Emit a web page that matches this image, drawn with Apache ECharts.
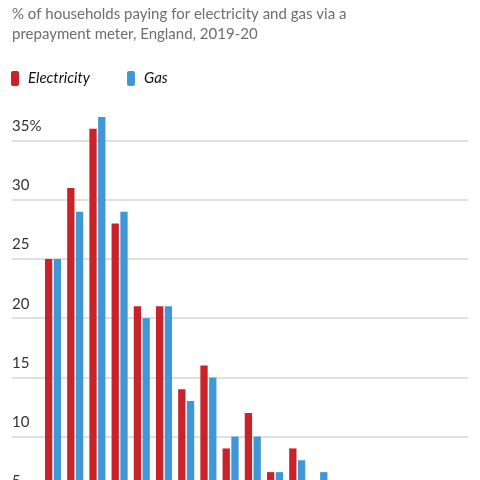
<!DOCTYPE html>
<html>
<head>
<meta charset="utf-8">
<script src="https://cdn.jsdelivr.net/npm/echarts@6/dist/echarts.min.js"></script>
<style>
html,body{margin:0;padding:0;background:#fff;}
#chart{width:480px;height:480px;}
</style>
</head>
<body>
<div id="chart"></div>
<script>
// Data (categories beyond the visible area are cropped)
var categories = ['1', '2', '3', '4', '5', '6', '7', '8', '9', '10', '11', '12', '13'];
var electricity = [25, 31, 36, 28, 21, 21, 14, 16, 9, 12, 7, 9, 5];
var gas = [25, 29, 37, 29, 20, 21, 13, 15, 10, 10, 7, 8, 7];
var yTicks = [0, 5, 10, 15, 20, 25, 30, 35];

var RED = '#c8232a';
var BLUE = '#3f97d5';
var FONT = 'Lato, "Open Sans", sans-serif';

var chart = echarts.init(document.getElementById('chart'), null, {renderer: 'canvas'});
var gridTop = 81.4, gridHeight = 473.6;

chart.setOption({
  animation: false,
  backgroundColor: '#fff',
  title: {
    text: '% of households paying for electricity and gas via a\nprepayment meter, England, 2019-20',
    left: 12,
    top: 4,
    padding: 0,
    textStyle: {
      fontFamily: FONT,
      fontSize: 15,
      fontWeight: 'normal',
      color: '#6e6e6e',
      lineHeight: 20
    }
  },
  legend: {
    left: 11,
    top: 71,
    padding: 0,
    itemWidth: 8,
    itemHeight: 15,
    itemGap: 37,
    icon: 'roundRect',
    data: ['Electricity', 'Gas'],
    textStyle: {
      fontFamily: FONT,
      fontSize: 15,
      fontStyle: 'italic',
      color: '#121212',
      padding: [0, 0, 0, 4]
    }
  },
  grid: [
    {left: 12, right: 12, top: gridTop, height: gridHeight, containLabel: false, outerBoundsMode: 'none'},
    {left: 41.9, right: 149.5, top: gridTop, height: gridHeight, containLabel: false, outerBoundsMode: 'none'}
  ],
  xAxis: [
    {gridIndex: 0, type: 'value', min: 0, max: 1, show: false},
    {gridIndex: 1, type: 'category', data: categories, show: false}
  ],
  yAxis: [
    {
      gridIndex: 0,
      type: 'value',
      min: 0,
      max: 40,
      interval: 5,
      axisLine: {show: false},
      axisTick: {show: false},
      splitLine: {show: true, showMaxLine: false, lineStyle: {color: '#d6d6d6', width: 1.5}},
      axisLabel: {
        inside: true,
        margin: 0,
        showMaxLabel: false,
        verticalAlign: 'bottom',
        padding: [0, 0, 7, 0],
        fontFamily: FONT,
        fontSize: 15,
        color: '#333333',
        formatter: function (v) {
          if (yTicks.indexOf(v) < 0) return '';
          return v === 35 ? v + '%' : String(v);
        }
      }
    },
    {gridIndex: 1, type: 'value', min: 0, max: 40, show: false}
  ],
  series: [
    {
      name: 'Electricity',
      type: 'bar',
      xAxisIndex: 1,
      yAxisIndex: 1,
      data: electricity,
      barWidth: 7.3,
      barGap: '20%',
      itemStyle: {color: RED}
    },
    {
      name: 'Gas',
      type: 'bar',
      xAxisIndex: 1,
      yAxisIndex: 1,
      data: gas,
      barWidth: 7.3,
      barGap: '20%',
      itemStyle: {color: BLUE}
    }
  ]
});
</script>
</body>
</html>
